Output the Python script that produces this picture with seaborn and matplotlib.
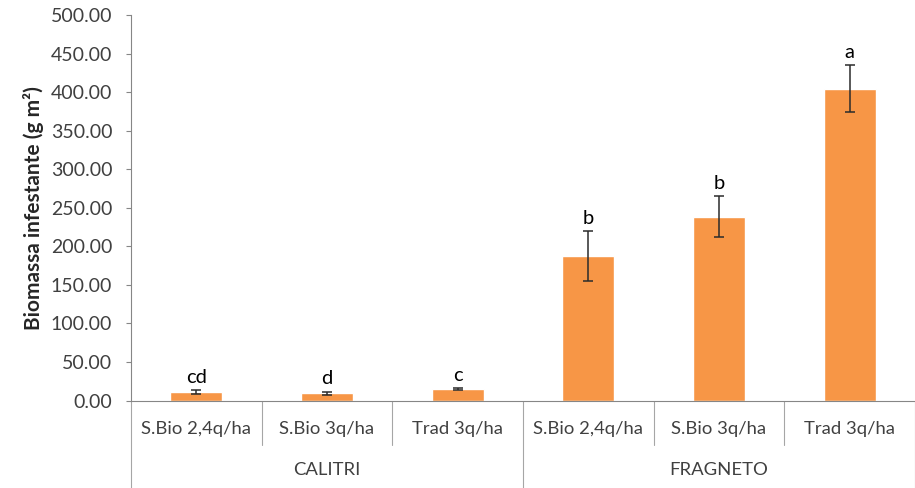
import pandas as pd
import matplotlib.pyplot as plt
import seaborn as sns

sites = ['CALITRI', 'CALITRI', 'CALITRI', 'FRAGNETO', 'FRAGNETO', 'FRAGNETO']
treatments = ['S.Bio 2,4q/ha', 'S.Bio 3q/ha', 'Trad 3q/ha',
              'S.Bio 2,4q/ha', 'S.Bio 3q/ha', 'Trad 3q/ha']
biomass = [10.6, 9.3, 14.9, 187.6, 238.6, 404.4]
errors = [2.5, 2.0, 0.8, 32.0, 26.0, 30.5]
letters = ['cd', 'd', 'c', 'b', 'b', 'a']
site_names = ['CALITRI', 'FRAGNETO']

df = pd.DataFrame({'site': sites, 'treatment': treatments,
                   'biomass': biomass, 'err': errors})
df['key'] = df['site'] + ' ' + df['treatment']

sns.set_style('white')
plt.rcParams['font.family'] = ['Lato', 'DejaVu Sans']

fig = plt.figure(figsize=(9.15, 4.88), dpi=100)
ax = fig.add_axes([0.1432, 0.1793, 0.8568, 0.79])

sns.barplot(data=df, x='key', y='biomass', order=list(df['key']),
            color='#F79646', saturation=1, width=0.4, ax=ax, errorbar=None)
ax.errorbar(range(len(df)), df['biomass'], yerr=df['err'], fmt='none',
            ecolor='#2b2b2b', elinewidth=1.1, capsize=3.3, capthick=1.1)

for i, (v, e, l) in enumerate(zip(biomass, errors, letters)):
    ax.text(i, v + e + 6, l, ha='center', va='bottom', fontsize=14.5, color='black')

ax.set_xlim(-0.5, 5.5)
ax.set_ylim(0, 500)
ax.set_yticks(range(0, 501, 50))
ax.set_yticklabels([f'{t:.2f}' for t in range(0, 501, 50)], fontsize=14, color='#404040')
ax.set_ylabel('Biomassa infestante (g m²)', fontsize=15, fontweight='bold', labelpad=5)
ax.set_xlabel('')
ax.set_xticks([])
ax.tick_params(axis='y', which='both', left=True, length=3.6, width=0.8, color='#868686', pad=10)

for s in ['top', 'right']:
    ax.spines[s].set_visible(False)
for s in ['left', 'bottom']:
    ax.spines[s].set_color('#868686')
    ax.spines[s].set_linewidth(0.8)

# two-level category axis
trans = ax.get_xaxis_transform()
for i, t in enumerate(treatments):
    ax.text(i, -0.075, t, transform=trans, ha='center', va='center',
            fontsize=13.3, color='#404040')
for j, s in enumerate(site_names):
    ax.text(j * 3 + 1, -0.18, s, transform=trans, ha='center', va='center',
            fontsize=13.3, color='#404040')
for b in [0.5, 1.5, 3.5, 4.5]:
    ax.plot([b, b], [0, -0.116], transform=trans, color='#a6a6a6', lw=0.8, clip_on=False)
for b in [-0.5, 2.5, 5.5]:
    ax.plot([b, b], [0, -0.226], transform=trans, color='#a6a6a6', lw=0.8, clip_on=False)

fig.savefig('out.png', dpi=100)
